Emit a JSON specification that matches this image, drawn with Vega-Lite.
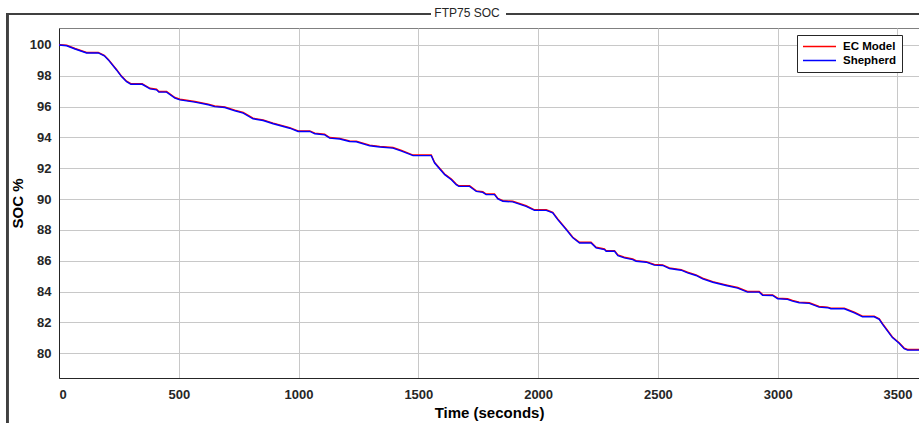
{
  "$schema": "https://vega.github.io/schema/vega-lite/v6.json",
  "width": 860,
  "height": 350,
  "autosize": "none",
  "padding": {"left": 59, "top": 28, "right": 0, "bottom": 45},
  "background": "white",
  "title": {"text": "FTP75 SOC", "fontSize": 12, "fontWeight": "normal", "font": "Liberation Sans", "color": "#262626", "offset": -7, "dx": -22},
  "data": {"values": [
    {"t": 0, "EC Model": 100.02, "Shepherd": 100.0},
    {"t": 32, "EC Model": 99.98, "Shepherd": 99.95},
    {"t": 67, "EC Model": 99.77, "Shepherd": 99.74},
    {"t": 115, "EC Model": 99.51, "Shepherd": 99.48},
    {"t": 164, "EC Model": 99.51, "Shepherd": 99.48},
    {"t": 189, "EC Model": 99.33, "Shepherd": 99.3},
    {"t": 206, "EC Model": 99.06, "Shepherd": 99.03},
    {"t": 240, "EC Model": 98.41, "Shepherd": 98.38},
    {"t": 261, "EC Model": 97.98, "Shepherd": 97.95},
    {"t": 282, "EC Model": 97.65, "Shepherd": 97.62},
    {"t": 300, "EC Model": 97.49, "Shepherd": 97.45},
    {"t": 347, "EC Model": 97.49, "Shepherd": 97.45},
    {"t": 380, "EC Model": 97.19, "Shepherd": 97.15},
    {"t": 407, "EC Model": 97.13, "Shepherd": 97.09},
    {"t": 417, "EC Model": 96.98, "Shepherd": 96.94},
    {"t": 449, "EC Model": 96.98, "Shepherd": 96.94},
    {"t": 484, "EC Model": 96.59, "Shepherd": 96.55},
    {"t": 505, "EC Model": 96.48, "Shepherd": 96.44},
    {"t": 567, "EC Model": 96.33, "Shepherd": 96.29},
    {"t": 623, "EC Model": 96.16, "Shepherd": 96.12},
    {"t": 650, "EC Model": 96.04, "Shepherd": 96.0},
    {"t": 692, "EC Model": 95.98, "Shepherd": 95.94},
    {"t": 734, "EC Model": 95.77, "Shepherd": 95.73},
    {"t": 769, "EC Model": 95.62, "Shepherd": 95.58},
    {"t": 810, "EC Model": 95.25, "Shepherd": 95.21},
    {"t": 852, "EC Model": 95.14, "Shepherd": 95.1},
    {"t": 894, "EC Model": 94.93, "Shepherd": 94.89},
    {"t": 963, "EC Model": 94.64, "Shepherd": 94.6},
    {"t": 998, "EC Model": 94.43, "Shepherd": 94.39},
    {"t": 1047, "EC Model": 94.43, "Shepherd": 94.39},
    {"t": 1068, "EC Model": 94.28, "Shepherd": 94.24},
    {"t": 1109, "EC Model": 94.21, "Shepherd": 94.17},
    {"t": 1130, "EC Model": 94.0, "Shepherd": 93.96},
    {"t": 1172, "EC Model": 93.94, "Shepherd": 93.9},
    {"t": 1213, "EC Model": 93.78, "Shepherd": 93.74},
    {"t": 1241, "EC Model": 93.76, "Shepherd": 93.72},
    {"t": 1297, "EC Model": 93.5, "Shepherd": 93.46},
    {"t": 1339, "EC Model": 93.42, "Shepherd": 93.38},
    {"t": 1394, "EC Model": 93.35, "Shepherd": 93.31},
    {"t": 1430, "EC Model": 93.16, "Shepherd": 93.12},
    {"t": 1478, "EC Model": 92.86, "Shepherd": 92.82},
    {"t": 1554, "EC Model": 92.86, "Shepherd": 92.82},
    {"t": 1568, "EC Model": 92.38, "Shepherd": 92.34},
    {"t": 1610, "EC Model": 91.63, "Shepherd": 91.59},
    {"t": 1638, "EC Model": 91.3, "Shepherd": 91.26},
    {"t": 1658, "EC Model": 90.98, "Shepherd": 90.94},
    {"t": 1669, "EC Model": 90.87, "Shepherd": 90.83},
    {"t": 1714, "EC Model": 90.87, "Shepherd": 90.83},
    {"t": 1742, "EC Model": 90.54, "Shepherd": 90.5},
    {"t": 1769, "EC Model": 90.48, "Shepherd": 90.44},
    {"t": 1783, "EC Model": 90.33, "Shepherd": 90.29},
    {"t": 1818, "EC Model": 90.33, "Shepherd": 90.29},
    {"t": 1832, "EC Model": 90.05, "Shepherd": 90.01},
    {"t": 1853, "EC Model": 89.9, "Shepherd": 89.86},
    {"t": 1894, "EC Model": 89.86, "Shepherd": 89.82},
    {"t": 1950, "EC Model": 89.57, "Shepherd": 89.53},
    {"t": 1985, "EC Model": 89.31, "Shepherd": 89.27},
    {"t": 2034, "EC Model": 89.31, "Shepherd": 89.27},
    {"t": 2061, "EC Model": 89.15, "Shepherd": 89.11},
    {"t": 2082, "EC Model": 88.71, "Shepherd": 88.67},
    {"t": 2117, "EC Model": 88.07, "Shepherd": 88.03},
    {"t": 2145, "EC Model": 87.53, "Shepherd": 87.49},
    {"t": 2173, "EC Model": 87.2, "Shepherd": 87.16},
    {"t": 2221, "EC Model": 87.2, "Shepherd": 87.16},
    {"t": 2242, "EC Model": 86.88, "Shepherd": 86.84},
    {"t": 2277, "EC Model": 86.77, "Shepherd": 86.73},
    {"t": 2284, "EC Model": 86.66, "Shepherd": 86.62},
    {"t": 2319, "EC Model": 86.66, "Shepherd": 86.62},
    {"t": 2333, "EC Model": 86.38, "Shepherd": 86.34},
    {"t": 2360, "EC Model": 86.23, "Shepherd": 86.19},
    {"t": 2395, "EC Model": 86.12, "Shepherd": 86.08},
    {"t": 2409, "EC Model": 86.01, "Shepherd": 85.97},
    {"t": 2451, "EC Model": 85.95, "Shepherd": 85.91},
    {"t": 2485, "EC Model": 85.76, "Shepherd": 85.72},
    {"t": 2520, "EC Model": 85.74, "Shepherd": 85.7},
    {"t": 2548, "EC Model": 85.54, "Shepherd": 85.5},
    {"t": 2597, "EC Model": 85.43, "Shepherd": 85.39},
    {"t": 2624, "EC Model": 85.26, "Shepherd": 85.22},
    {"t": 2659, "EC Model": 85.09, "Shepherd": 85.05},
    {"t": 2687, "EC Model": 84.87, "Shepherd": 84.83},
    {"t": 2729, "EC Model": 84.65, "Shepherd": 84.61},
    {"t": 2784, "EC Model": 84.44, "Shepherd": 84.4},
    {"t": 2833, "EC Model": 84.27, "Shepherd": 84.23},
    {"t": 2874, "EC Model": 84.01, "Shepherd": 83.97},
    {"t": 2923, "EC Model": 84.01, "Shepherd": 83.97},
    {"t": 2937, "EC Model": 83.81, "Shepherd": 83.77},
    {"t": 2979, "EC Model": 83.79, "Shepherd": 83.75},
    {"t": 3000, "EC Model": 83.58, "Shepherd": 83.54},
    {"t": 3041, "EC Model": 83.54, "Shepherd": 83.5},
    {"t": 3062, "EC Model": 83.43, "Shepherd": 83.39},
    {"t": 3090, "EC Model": 83.32, "Shepherd": 83.28},
    {"t": 3132, "EC Model": 83.28, "Shepherd": 83.24},
    {"t": 3173, "EC Model": 83.04, "Shepherd": 83.0},
    {"t": 3208, "EC Model": 83.0, "Shepherd": 82.96},
    {"t": 3222, "EC Model": 82.93, "Shepherd": 82.89},
    {"t": 3278, "EC Model": 82.93, "Shepherd": 82.89},
    {"t": 3320, "EC Model": 82.67, "Shepherd": 82.63},
    {"t": 3354, "EC Model": 82.41, "Shepherd": 82.37},
    {"t": 3403, "EC Model": 82.41, "Shepherd": 82.37},
    {"t": 3424, "EC Model": 82.24, "Shepherd": 82.2},
    {"t": 3438, "EC Model": 81.92, "Shepherd": 81.88},
    {"t": 3479, "EC Model": 81.06, "Shepherd": 81.02},
    {"t": 3507, "EC Model": 80.69, "Shepherd": 80.65},
    {"t": 3528, "EC Model": 80.34, "Shepherd": 80.3},
    {"t": 3542, "EC Model": 80.25, "Shepherd": 80.21},
    {"t": 3600, "EC Model": 80.25, "Shepherd": 80.21}
  ]},
  "layer": [
    {
      "transform": [{"fold": ["EC Model", "Shepherd"], "as": ["series", "soc"]}],
      "mark": {"type": "line", "strokeWidth": 1.4, "interpolate": "linear"},
      "encoding": {
        "x": {
          "field": "t", "type": "quantitative",
          "scale": {"domain": [0, 3590], "nice": false, "zero": false},
          "axis": {"title": "Time (seconds)", "values": [0, 500, 1000, 1500, 2000, 2500, 3000, 3500], "tickCount": 20, "format": "d", "labelPadding": 10, "titlePadding": 4, "labelOverlap": false}
        },
        "y": {
          "field": "soc", "type": "quantitative",
          "scale": {"domain": [78.4, 101.1], "nice": false, "zero": false},
          "axis": {"title": "SOC %", "values": [80, 82, 84, 86, 88, 90, 92, 94, 96, 98, 100], "tickCount": 20, "labelPadding": 8, "titlePadding": 4, "labelOverlap": false}
        },
        "color": {
          "field": "series", "type": "nominal",
          "scale": {"domain": ["EC Model", "Shepherd"], "range": ["#ff0000", "#0000ff"]},
          "legend": {"title": null, "orient": "none", "legendX": 738, "legendY": 7}
        }
      }
    },
    {
      "mark": {"type": "rule", "color": "#404040", "strokeWidth": 2, "clip": false},
      "encoding": {"x": {"datum": -217}, "y": {"datum": 102.01}, "y2": {"datum": 70}}
    },
    {
      "mark": {"type": "rule", "color": "#404040", "strokeWidth": 2, "clip": false},
      "encoding": {"x": {"datum": -221}, "x2": {"datum": 1551}, "y": {"datum": 102.01}}
    },
    {
      "mark": {"type": "rule", "color": "#404040", "strokeWidth": 2, "clip": false},
      "encoding": {"x": {"datum": 1868}, "x2": {"datum": 3800}, "y": {"datum": 102.01}}
    }
  ],
  "config": {
    "font": "Liberation Sans",
    "view": {"stroke": "#808080", "strokeWidth": 1},
    "axis": {
      "grid": true,
      "gridColor": "#c8c8c8",
      "gridWidth": 1,
      "ticks": false,
      "domainColor": "#262626",
      "domainWidth": 1,
      "labelFont": "Liberation Sans",
      "labelFontSize": 13,
      "labelFontWeight": "bold",
      "labelColor": "#262626",
      "titleFont": "Liberation Sans",
      "titleFontSize": 15,
      "titleFontWeight": "bold",
      "titleColor": "#000000"
    },
    "legend": {
      "fillColor": "white",
      "strokeColor": "#262626",
      "padding": 5,
      "symbolType": "stroke",
      "symbolSize": 1089,
      "symbolStrokeWidth": 1.5,
      "clipHeight": 13,
      "labelFont": "Liberation Sans",
      "labelFontSize": 11.5,
      "labelFontWeight": "bold",
      "labelColor": "#000000",
      "labelOffset": 6,
      "rowPadding": 1,
      "cornerRadius": 0
    }
  }
}
